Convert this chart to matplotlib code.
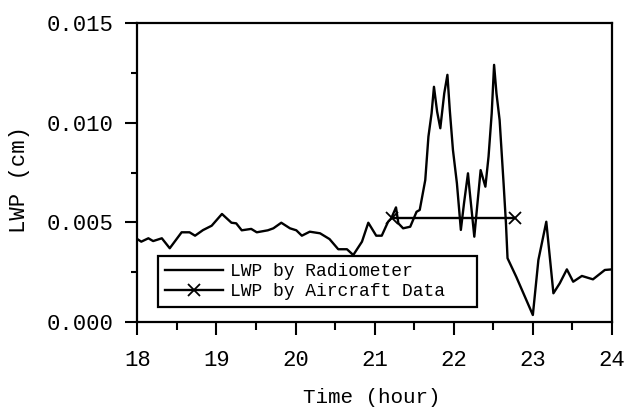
import numpy as np
import matplotlib
matplotlib.use('Agg')
import matplotlib.pyplot as plt
from matplotlib.ticker import MultipleLocator, FormatStrFormatter

# radiometer trace
rad_time = [18.0, 18.05, 18.14, 18.2, 18.31, 18.41, 18.56, 18.66, 18.73, 18.83,
            18.94, 19.07, 19.19, 19.25, 19.32, 19.44, 19.51, 19.65, 19.72, 19.82,
            19.93, 20.01, 20.08, 20.18, 20.31, 20.43, 20.54, 20.65, 20.73, 20.84,
            20.92, 21.02, 21.09, 21.17, 21.21, 21.27, 21.30, 21.36, 21.45, 21.53,
            21.57, 21.64, 21.68, 21.72, 21.75, 21.79, 21.83, 21.88, 21.92, 21.95,
            21.99, 22.04, 22.09, 22.13, 22.18, 22.20, 22.26, 22.30, 22.34, 22.40,
            22.44, 22.48, 22.51, 22.54, 22.58, 22.63, 22.66, 22.68, 22.79, 23.0,
            23.07, 23.17, 23.26, 23.34, 23.43, 23.51, 23.62, 23.76, 23.91, 24.0]
rad_lwp = [0.00416, 0.00403, 0.0042, 0.00406, 0.0042, 0.0037, 0.0045, 0.0045, 0.00433, 0.00461,
           0.00483, 0.00542, 0.00498, 0.00495, 0.0046, 0.00467, 0.0045, 0.0046, 0.0047, 0.00498,
           0.0047, 0.0046, 0.00433, 0.00453, 0.00445, 0.00416, 0.00365, 0.00365, 0.00336, 0.00403,
           0.00498, 0.00433, 0.00433, 0.00503, 0.0052, 0.00575, 0.00495, 0.0047, 0.00478, 0.00553,
           0.00562, 0.00712, 0.0093, 0.01047, 0.0118, 0.01055, 0.00972, 0.01147, 0.0124, 0.01063,
           0.00863, 0.00696, 0.00462, 0.00596, 0.00746, 0.00662, 0.00428, 0.00596, 0.00762, 0.00679,
           0.0083, 0.01047, 0.0129, 0.01147, 0.01013, 0.00696, 0.00495, 0.0032, 0.00227, 0.00035,
           0.00311, 0.00503, 0.00144, 0.00194, 0.00264, 0.00202, 0.00231, 0.00214, 0.00261, 0.00264]

# aircraft estimate
air_time = [21.22, 22.77]
air_lwp = [0.00522, 0.00522]

fnt = 'Liberation Mono'

fig = plt.figure(figsize=(6.27, 4.08), dpi=100)
ax = fig.add_axes([0.219, 0.2108, 0.757, 0.7328])

ax.plot(rad_time, rad_lwp, color='black', lw=1.7, label='LWP by Radiometer')
ax.plot(air_time, air_lwp, color='black', lw=1.7, marker='x', ms=9, mew=1.3,
        label='LWP by Aircraft Data')

ax.set_xlim(18, 24)
ax.set_ylim(0, 0.015)
ax.xaxis.set_major_locator(MultipleLocator(1))
ax.xaxis.set_minor_locator(MultipleLocator(0.5))
ax.yaxis.set_major_locator(MultipleLocator(0.005))
ax.yaxis.set_minor_locator(MultipleLocator(0.0025))
ax.yaxis.set_major_formatter(FormatStrFormatter('%.3f'))

for s in ax.spines.values():
    s.set_linewidth(1.6)
ax.tick_params(axis='x', which='major', direction='out', length=9.5, width=1.5, pad=11)
ax.tick_params(axis='x', which='minor', direction='out', length=5.5, width=1.5)
ax.tick_params(axis='y', which='major', direction='out', length=9, width=1.5, pad=8)
ax.tick_params(axis='y', which='minor', direction='out', length=4.5, width=1.5)
for lab in ax.get_xticklabels() + ax.get_yticklabels():
    lab.set_fontfamily(fnt)
    lab.set_fontsize(16)

ax.set_xlabel('Time (hour)', fontfamily=fnt, fontsize=15)
ax.xaxis.label.set_verticalalignment('center')
ax.xaxis.set_label_coords(0.494, -0.254)
ax.set_ylabel('LWP (cm)', fontfamily=fnt, fontsize=16)
ax.yaxis.label.set_verticalalignment('center')
ax.yaxis.label.set_horizontalalignment('center')
ax.yaxis.set_label_coords(-0.248, 0.478)

leg = ax.legend(loc='lower left', bbox_to_anchor=(0.043, 0.05, 0.672, 0.164),
                mode='expand', borderaxespad=0, fancybox=False, framealpha=1,
                prop={'family': fnt, 'size': 13},
                handlelength=3.2, handletextpad=0.4, labelspacing=0.15,
                borderpad=0.4)
leg.get_frame().set_edgecolor('black')
leg.get_frame().set_linewidth(1.6)

fig.savefig('out.png', dpi=100)
